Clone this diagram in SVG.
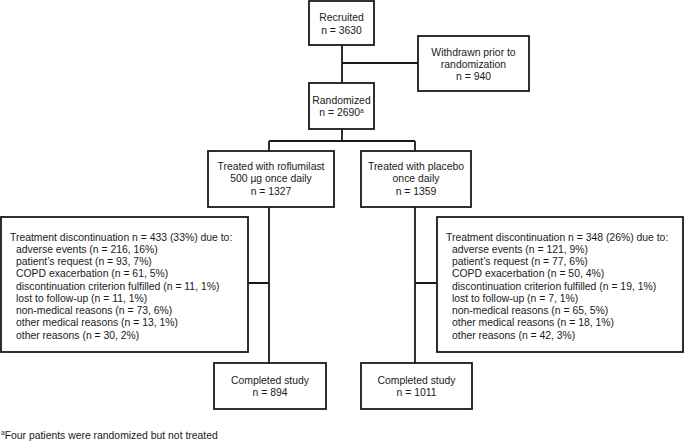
<svg xmlns="http://www.w3.org/2000/svg" width="685" height="441" viewBox="0 0 685 441">
<style>
rect.box{fill:#fff;stroke:#1a1a1a;stroke-width:1.8}
.c{fill:none;stroke:#1a1a1a;stroke-width:1.8}
text{font-family:"Liberation Sans",Arial,sans-serif;font-size:10.4px;fill:#1a1a1a}
.m{text-anchor:middle}
.sup{font-size:6.5px}
</style>
<rect width="685" height="441" fill="#fff"/>
<g id="connectors">
<path class="c" d="M342,45 V83 M342,63 H418 M342,129 V141 M269,141 H415 M269,141 V151 M415,141 V151 M269,207 V363 M248,283 H269 M415,207 V363 M415,283 H437"/>
</g>
<g id="recruited">
<rect class="box" x="309" y="1" width="65" height="44"/>
<text class="m" x="341.5" y="21">Recruited</text>
<text class="m" x="341.5" y="33.5">n = 3630</text>
</g>
<g id="withdrawn">
<rect class="box" x="418" y="36" width="111" height="55"/>
<text class="m" x="473.5" y="55.5">Withdrawn prior to</text>
<text class="m" x="473.5" y="67.7">randomization</text>
<text class="m" x="473.5" y="80">n = 940</text>
</g>
<g id="randomized">
<rect class="box" x="309" y="83" width="65" height="46"/>
<text class="m" x="341.5" y="103.5">Randomized</text>
<text class="m" x="341.5" y="116">n = 2690<tspan class="sup" dy="-3.5">a</tspan></text>
</g>
<g id="roflumilast">
<rect class="box" x="208" y="151" width="126" height="56"/>
<text class="m" x="271" y="169.5">Treated with roflumilast</text>
<text class="m" x="271" y="182.2">500 µg once daily</text>
<text class="m" x="271" y="195">n = 1327</text>
</g>
<g id="placebo">
<rect class="box" x="361" y="151" width="110" height="56"/>
<text class="m" x="416" y="169.5">Treated with placebo</text>
<text class="m" x="416" y="182.2">once daily</text>
<text class="m" x="416" y="195">n = 1359</text>
</g>
<g id="discontinuation-roflumilast">
<rect class="box" x="1" y="217" width="247" height="135"/>
<text x="10" y="240.5">Treatment discontinuation n = 433 (33%) due to:</text>
<text x="16" y="252.75">adverse events (n = 216, 16%)</text>
<text x="16" y="265">patient’s request (n = 93, 7%)</text>
<text x="16" y="277.25">COPD exacerbation (n = 61, 5%)</text>
<text x="16" y="289.5">discontinuation criterion fulfilled (n = 11, 1%)</text>
<text x="16" y="301.75">lost to follow-up (n = 11, 1%)</text>
<text x="16" y="314">non-medical reasons (n = 73, 6%)</text>
<text x="16" y="326.25">other medical reasons (n = 13, 1%)</text>
<text x="16" y="338.5">other reasons (n = 30, 2%)</text>
</g>
<g id="discontinuation-placebo">
<rect class="box" x="437" y="217" width="246" height="135"/>
<text x="446" y="240.5">Treatment discontinuation n = 348 (26%) due to:</text>
<text x="452" y="252.75">adverse events (n = 121, 9%)</text>
<text x="452" y="265">patient’s request  (n = 77, 6%)</text>
<text x="452" y="277.25">COPD exacerbation (n = 50, 4%)</text>
<text x="452" y="289.5">discontinuation criterion fulfilled (n = 19, 1%)</text>
<text x="452" y="301.75">lost to follow-up (n = 7, 1%)</text>
<text x="452" y="314">non-medical reasons (n = 65, 5%)</text>
<text x="452" y="326.25">other medical reasons (n = 18, 1%)</text>
<text x="452" y="338.5">other reasons (n = 42, 3%)</text>
</g>
<g id="completed-roflumilast">
<rect class="box" x="214" y="363" width="112" height="46"/>
<text class="m" x="270" y="383.5">Completed study</text>
<text class="m" x="270" y="396">n = 894</text>
</g>
<g id="completed-placebo">
<rect class="box" x="361" y="363" width="111" height="46"/>
<text class="m" x="416.5" y="383.5">Completed study</text>
<text class="m" x="416.5" y="396">n = 1011</text>
</g>
<g id="footnote">
<text x="1" y="438.5"><tspan class="sup" dy="-3.5">a</tspan><tspan dy="3.5">Four patients were randomized but not treated</tspan></text>
</g>
</svg>
